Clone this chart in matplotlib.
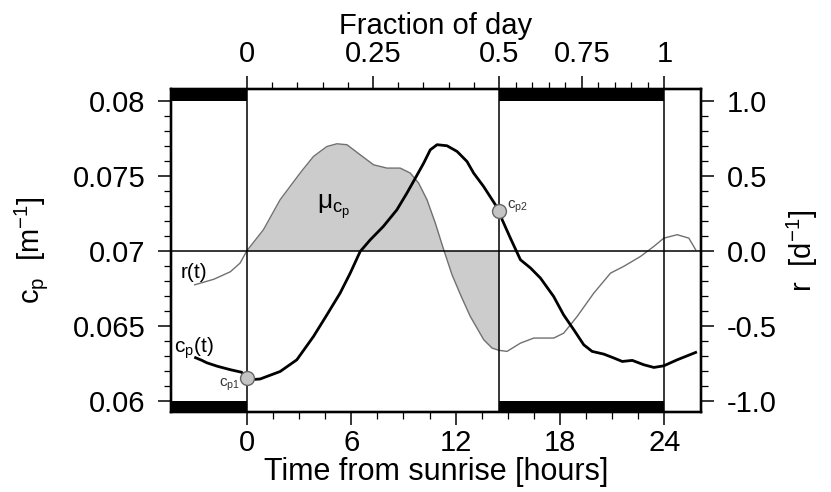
import matplotlib
matplotlib.use("Agg")
import matplotlib.pyplot as plt
from matplotlib.ticker import FixedLocator, FixedFormatter
import numpy as np

plt.rcParams['font.family'] = ['Liberation Sans', 'DejaVu Sans']
plt.rcParams['mathtext.fontset'] = 'custom'
plt.rcParams['mathtext.rm'] = 'Liberation Sans'
plt.rcParams['mathtext.it'] = 'Liberation Sans'
plt.rcParams['mathtext.bf'] = 'Liberation Sans:bold'

# ---- data ----
t_cp = [-2.95, -2.6, -2.3, -1.7, -0.95, -0.3, 0.0, 0.4, 0.76, 1.91, 2.87, 3.83,
        4.6, 5.36, 5.94, 6.51, 7.09, 7.84, 8.62, 9.2, 9.68, 10.16, 10.54, 10.93,
        11.5, 12.08, 12.65, 13.03, 13.6, 14.28, 14.5, 14.67, 15.14, 15.72, 16.3,
        16.87, 17.63, 18.2, 18.79, 19.36, 19.84, 20.51, 21.09, 21.57, 22.15,
        22.81, 23.39, 23.96, 24.73, 25.79]
cp = [0.06287, 0.06270, 0.06253, 0.06230, 0.06207, 0.06190, 0.06155, 0.06142,
      0.06145, 0.06195, 0.06273, 0.06429, 0.06573, 0.06718, 0.06851, 0.06995,
      0.07073, 0.07162, 0.07273, 0.07385, 0.07484, 0.07584, 0.07673, 0.07707,
      0.07700, 0.07662, 0.07595, 0.07518, 0.07429, 0.07307, 0.07267, 0.07207,
      0.07085, 0.06940, 0.06885, 0.06818, 0.06695, 0.06573, 0.06473, 0.06373,
      0.06329, 0.06311, 0.06285, 0.06262, 0.06269, 0.06240, 0.06222, 0.06233,
      0.06273, 0.06322]

t_r = [-3.0, -1.9, -0.95, -0.39, 0.0, 0.95, 1.91, 3.06, 3.83, 4.6, 5.17, 5.75,
       6.51, 7.28, 8.05, 8.81, 9.39, 9.87, 10.35, 10.83, 11.31, 11.79, 12.3,
       12.84, 13.61, 14.09, 14.5, 14.95, 15.72, 16.49, 17.64, 18.21, 18.98,
       19.94, 20.9, 21.66, 22.62, 23.39, 23.96, 24.73, 25.4, 25.79]
r = [-0.227, -0.19, -0.14, -0.082, 0.0, 0.14, 0.34, 0.518, 0.629, 0.695, 0.713,
     0.707, 0.64, 0.573, 0.551, 0.551, 0.518, 0.451, 0.34, 0.184, 0.007, -0.16,
     -0.30, -0.438, -0.593, -0.649, -0.664, -0.671, -0.616, -0.582, -0.582,
     -0.549, -0.438, -0.282, -0.149, -0.104, -0.038, 0.029, 0.084, 0.107,
     0.084, 0.007]

sunrise, sunset, next_sunrise = 0.0, 14.5, 24.0
xlim = (-4.36, 26.1)
cp_ticks = [0.06, 0.065, 0.07, 0.075, 0.08]
cp_labels = ['0.06', '0.065', '0.07', '0.075', '0.08']
r_ticks = [-1.0, -0.5, 0.0, 0.5, 1.0]
r_labels = ['-1.0', '-0.5', '0.0', '0.5', '1.0']
hour_ticks = [0, 6, 12, 18, 24]
frac_ticks = [0, 0.25, 0.5, 0.75, 1]
frac_labels = ['0', '0.25', '0.5', '0.75', '1']
cp1 = (0.0, 0.06153)
cp2 = (14.5, 0.07267)

cp_mid, cp_scale = 0.07, 0.01
ylim = (0.05925, 0.08078)

def frac_to_hours(f):
    f = np.asarray(f, dtype=float)
    return np.where(f <= 0.5, f / 0.5 * sunset,
                    sunset + (f - 0.5) / 0.5 * (next_sunrise - sunset))

fig = plt.figure(figsize=(8.31, 4.92), dpi=100)
ax = fig.add_axes([0.2058, 0.1626, 0.6378, 0.6564])
ax.set_xlim(*xlim)
ax.set_ylim(*ylim)

FS = 21
TL, TLm = 9.5, 5
# night bars
for a, b in [(xlim[0], sunrise), (sunset, next_sunrise)]:
    ax.fill_between([a, b], cp_ticks[-1], ylim[1], color='black', lw=0, zorder=3)
    ax.fill_between([a, b], ylim[0], cp_ticks[0], color='black', lw=0, zorder=3)

# r(t) drawn in cp units (right axis is the linear map of the left)
t_r_a = np.array(t_r)
r_a = np.array(r)
r_cp = cp_mid + cp_scale * r_a
mask = (t_r_a >= sunrise) & (t_r_a <= sunset)
ax.fill_between(t_r_a[mask], r_cp[mask], cp_mid, color='#cccccc', lw=0, zorder=1)
ax.plot(t_r_a, r_cp, color='#707070', lw=1.0, zorder=2)

ax.axhline(cp_mid, color='black', lw=1.1, zorder=2)
for xv in [sunrise, sunset, next_sunrise]:
    ax.axvline(xv, color='black', lw=1.1, zorder=2)

ax.plot(t_cp, cp, color='black', lw=2.0, zorder=4, solid_joinstyle='round')
ax.plot([cp1[0], cp2[0]], [cp1[1], cp2[1]], ls='none', marker='o', ms=10,
        mfc='#c4c4c4', mec='#666666', mew=1.0, zorder=5)

# annotations
ax.text(-3.04, 0.06853, 'r(t)', fontsize=15, ha='center', va='center', zorder=6)
ax.text(-3.04, 0.0635, r'$\mathregular{c_p(t)}$', fontsize=15, ha='center', va='center', zorder=6)
ax.text(-1.02, 0.06105, r'$\mathregular{c_{p1}}$', fontsize=11, ha='center', va='center', color='#333333', zorder=6)
ax.text(15.55, 0.07293, r'$\mathregular{c_{p2}}$', fontsize=11, ha='center', va='center', color='#333333', zorder=6)
ax.text(5.0, 0.07293, r'$\mathregular{\mu_{c_p}}$', fontsize=19, ha='center', va='center', zorder=6)

for s in ax.spines.values():
    s.set_linewidth(1.6)

# left axis
ax.yaxis.set_major_locator(FixedLocator(cp_ticks))
ax.yaxis.set_major_formatter(FixedFormatter(cp_labels))
ax.yaxis.set_minor_locator(FixedLocator(np.round(np.arange(0.06, 0.08001, 0.001), 4)))
ax.set_ylabel(r'$\mathregular{c_p\ \ [m^{-1}]}$', fontsize=FS, labelpad=16)
# bottom axis
ax.xaxis.set_major_locator(FixedLocator(hour_ticks))
ax.xaxis.set_minor_locator(FixedLocator(np.arange(0, 24.01, 1.5)))
ax.set_xlabel('Time from sunrise [hours]', fontsize=22, labelpad=0)
ax.tick_params(which='major', direction='out', length=TL, width=1.1, labelsize=FS, pad=9)
ax.tick_params(which='minor', direction='out', length=TLm, width=0.9)
ax.tick_params(axis='x', which='major', pad=3)

# right axis
ax2 = ax.twinx()
ax2.set_ylim((ylim[0] - cp_mid) / cp_scale, (ylim[1] - cp_mid) / cp_scale)
ax2.yaxis.set_major_locator(FixedLocator(r_ticks))
ax2.yaxis.set_major_formatter(FixedFormatter(r_labels))
ax2.yaxis.set_minor_locator(FixedLocator(np.round(np.arange(-1, 1.001, 0.1), 2)))
ax2.tick_params(which='major', direction='out', length=TL, width=1.1, labelsize=FS, pad=9)
ax2.tick_params(which='minor', direction='out', length=TLm, width=0.9)
ax2.set_ylabel(r'$\mathregular{r\ \ [d^{-1}]}$', fontsize=FS, labelpad=6)
for s in ax2.spines.values():
    s.set_linewidth(1.6)

# top axis
ax3 = ax.twiny()
ax3.set_xlim(*xlim)
ax3.xaxis.set_major_locator(FixedLocator(frac_to_hours(frac_ticks)))
ax3.xaxis.set_major_formatter(FixedFormatter(frac_labels))
ax3.xaxis.set_minor_locator(FixedLocator(frac_to_hours(np.arange(0, 1.001, 0.05))))
ax3.tick_params(which='major', direction='out', length=TL, width=1.1, labelsize=FS, pad=6)
ax3.tick_params(which='minor', direction='out', length=TLm, width=0.9)
ax3.set_xlabel('Fraction of day', fontsize=FS, labelpad=4)
for s in ax3.spines.values():
    s.set_linewidth(1.6)

fig.savefig('out.png', dpi=100)
